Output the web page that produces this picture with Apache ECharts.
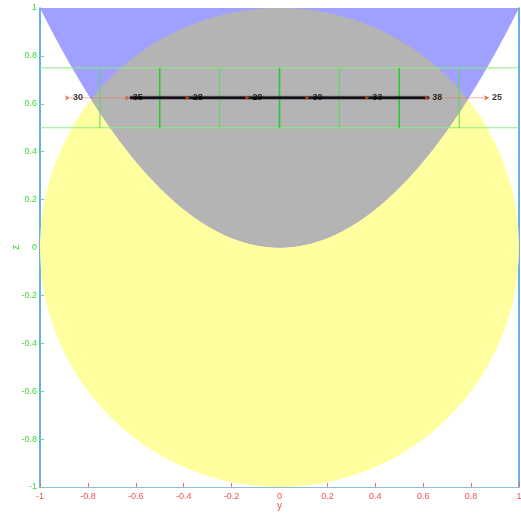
<!DOCTYPE html>
<html>
<head>
<meta charset="utf-8">
<script src="https://cdn.jsdelivr.net/npm/echarts@6/dist/echarts.min.js"></script>
<style>
  html, body { margin: 0; padding: 0; background: #fff; }
  #chart { width: 521px; height: 514px; }
</style>
</head>
<body>
<div id="chart"></div>
<script>
// Station positions along y, all at the same height z
var stationY = [-0.875, -0.625, -0.375, -0.125, 0.125, 0.375, 0.625, 0.875];
var stationZ = 0.625;
var stationLabels = ['30', '35', '28', '29', '30', '33', '38', '25'];
// Indices of the stations joined by the heavy segment
var heavyFrom = 1, heavyTo = 6;

// Cell grid drawn in the band between two heights
var bandZ = [0.5, 0.75];
var cellY = [-0.75, -0.5, -0.25, 0, 0.25, 0.5, 0.75];
var majorCellY = [-0.5, 0, 0.5];

// Shapes: unit circle and the parabola z = y^2 (region above it up to z = 1)
var circleRadius = 1;
var axisMin = -1, axisMax = 1, axisStep = 0.2;

function circlePts() {
  var pts = [];
  for (var i = 0; i <= 240; i++) {
    var t = i / 240 * Math.PI * 2;
    pts.push([circleRadius * Math.cos(t), circleRadius * Math.sin(t)]);
  }
  return pts;
}
function parabolaRegionPts() {
  var pts = [];
  for (var i = 0; i <= 200; i++) {
    var y = axisMin + (axisMax - axisMin) * i / 200;
    pts.push([y, y * y]);
  }
  pts.push([axisMax, axisMax]);
  pts.push([axisMin, axisMax]);
  return pts;
}
function overlapPts() {
  var y0 = Math.sqrt((Math.sqrt(5) - 1) / 2);
  var pts = [], i, y;
  for (i = 0; i <= 200; i++) {
    y = -y0 + 2 * y0 * i / 200;
    pts.push([y, y * y]);
  }
  for (i = 200; i >= 0; i--) {
    y = -y0 + 2 * y0 * i / 200;
    pts.push([y, Math.sqrt(Math.max(0, 1 - y * y))]);
  }
  return pts;
}

function polygonSeries(pts, color, z) {
  return {
    type: 'custom',
    z: z,
    silent: true,
    data: [[0, 0]],
    renderItem: function (params, api) {
      return {
        type: 'polygon',
        shape: { points: pts.map(function (p) { return api.coord(p); }) },
        style: { fill: color }
      };
    }
  };
}

function segmentSeries(segs, color, width, z) {
  return {
    type: 'custom',
    z: z,
    silent: true,
    data: segs.map(function (s, i) { return [i, 0]; }),
    renderItem: function (params, api) {
      var s = segs[params.dataIndex];
      var a = api.coord(s[0]), b = api.coord(s[1]);
      return {
        type: 'line',
        shape: { x1: a[0], y1: a[1], x2: b[0], y2: b[1] },
        style: { stroke: color, lineWidth: width }
      };
    }
  };
}

var hLines = bandZ.map(function (z) { return [[axisMin, z], [axisMax, z]]; });
var vMinor = cellY.filter(function (y) { return majorCellY.indexOf(y) < 0; })
  .map(function (y) { return [[y, bandZ[0]], [y, bandZ[1]]]; });
var vMajor = majorCellY.map(function (y) { return [[y, bandZ[0]], [y, bandZ[1]]]; });

var stationPts = stationY.map(function (y, i) { return { value: [y, stationZ], label: stationLabels[i] }; });
var heavyPts = stationY.slice(heavyFrom, heavyTo + 1).map(function (y) { return [y, stationZ]; });

var chart = echarts.init(document.getElementById('chart'));
chart.setOption({
  animation: false,
  backgroundColor: '#fff',
  grid: { left: 40, right: 2, top: 8, bottom: 27, containLabel: false, outerBoundsMode: 'none' },
  xAxis: {
    type: 'value', min: axisMin, max: axisMax, interval: axisStep,
    name: 'y', nameLocation: 'middle', nameGap: 14, nameMoveOverlap: false,
    nameTextStyle: { color: '#ff4d4d', fontSize: 10, fontFamily: 'Liberation Sans' },
    axisLine: { onZero: false, lineStyle: { color: '#8fbfe0', width: 1 } },
    axisTick: { inside: true, length: 4, lineStyle: { color: '#ff6666' } },
    axisLabel: { color: '#ff4d4d', fontSize: 9, margin: 5, fontFamily: 'Liberation Sans' },
    splitLine: { show: false }
  },
  yAxis: [{
    type: 'value', min: axisMin, max: axisMax, interval: axisStep,
    name: 'z', nameLocation: 'middle', nameGap: 19, nameRotate: 90, nameMoveOverlap: false,
    nameTextStyle: { color: '#33dd33', fontSize: 10, fontFamily: 'Liberation Sans' },
    axisLine: { onZero: false, lineStyle: { color: '#3399dd', width: 1.5 } },
    axisTick: { inside: true, length: 4, lineStyle: { color: '#66dd66' } },
    axisLabel: { color: '#33dd33', fontSize: 9, margin: 3, fontFamily: 'Liberation Sans' },
    splitLine: { show: false }
  }, {
    type: 'value', min: axisMin, max: axisMax, position: 'right',
    axisLine: { show: true, onZero: false, lineStyle: { color: '#3399dd', width: 1.5 } },
    axisTick: { show: false }, axisLabel: { show: false }, splitLine: { show: false }
  }],
  series: [
    polygonSeries(circlePts(), '#ffffa0', 1),
    polygonSeries(parabolaRegionPts(), '#a0a0ff', 2),
    polygonSeries(overlapPts(), '#b4b4b4', 3),
    segmentSeries(hLines, '#88ee88', 1, 4),
    segmentSeries(vMinor, '#55dd55', 1, 4),
    segmentSeries(vMajor, '#22cc22', 1.5, 4),
    {
      type: 'line', z: 5, silent: true, symbol: 'none',
      data: stationPts.map(function (p) { return p.value; }),
      lineStyle: { color: 'rgba(230,120,80,0.55)', width: 1 }
    },
    {
      type: 'line', z: 6, silent: true, symbol: 'none',
      data: heavyPts,
      lineStyle: { color: '#5a4a6a', width: 4, opacity: 0.6 }
    },
    {
      type: 'line', z: 7, silent: true, symbol: 'none',
      data: heavyPts,
      lineStyle: { color: '#111', width: 2.5 }
    },
    {
      type: 'scatter', z: 8, silent: true,
      symbol: 'arrow', symbolSize: [4, 5], symbolRotate: -90,
      itemStyle: { color: '#e0541c' },
      data: stationPts,
      label: {
        show: true, position: 'right', distance: 3,
        formatter: function (p) { return p.data.label; },
        color: '#000', fontSize: 9, fontWeight: 'bold', fontFamily: 'Liberation Sans'
      }
    }
  ]
});
</script>
</body>
</html>
